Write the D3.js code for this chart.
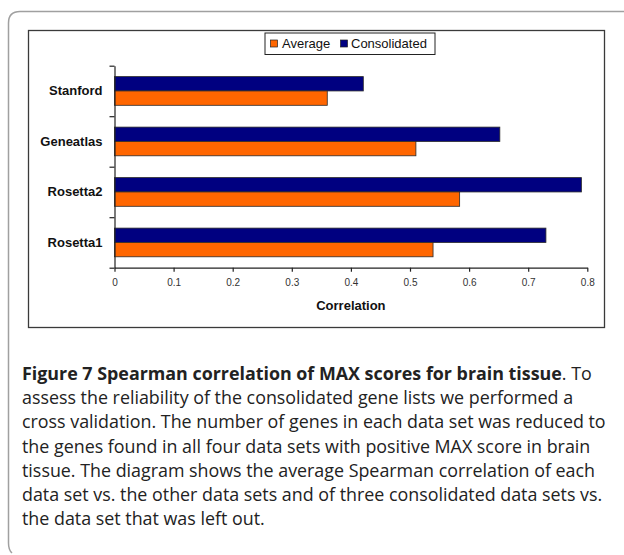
<!DOCTYPE html>
<html>
<head>
<meta charset="utf-8">
<script src="https://cdn.jsdelivr.net/npm/d3@7"></script>
<style>
  body { margin: 0; background: #fff; }
  svg { display: block; }
</style>
</head>
<body>
<svg id="chart" width="624" height="555"></svg>
<script>
// data
const categories = ['Stanford', 'Geneatlas', 'Rosetta2', 'Rosetta1']
const seriesNames = ['Consolidated', 'Average']
const consolidated = [0.421, 0.652, 0.79, 0.73]
const average = [0.36, 0.51, 0.584, 0.539]
const xTicks = [0, 0.1, 0.2, 0.3, 0.4, 0.5, 0.6, 0.7, 0.8]
const colors = { Average: '#ff6600', Consolidated: '#000080' }
const captionBold = 'Figure 7 Spearman correlation of MAX scores for brain tissue'
const captionLines = [
  '. To',
  'assess the reliability of the consolidated gene lists we performed a',
  'cross validation. The number of genes in each data set was reduced to',
  'the genes found in all four data sets with positive MAX score in brain',
  'tissue. The diagram shows the average Spearman correlation of each',
  'data set vs. the other data sets and of three consolidated data sets vs.',
  'the data set that was left out.'
]

const svg = d3.select('#chart')

// outer figure frame (rounded left side, open right)
svg
  .append('path')
  .attr('d', 'M624,11.5 H20 Q8.5,11.5 8.5,23 V543 Q8.5,550 12,553')
  .attr('fill', 'none')
  .attr('stroke', '#a0a0a0')
  .attr('stroke-width', 1.5)

// chart frame
svg
  .append('rect')
  .attr('x', 28.5)
  .attr('y', 30.5)
  .attr('width', 576)
  .attr('height', 297)
  .attr('fill', '#fff')
  .attr('stroke', '#3a3a3a')
  .attr('stroke-width', 1.3)

/// scales ////////////////////////////////
const plot = { left: 114.5, right: 587.3, top: 65.7, bottom: 267.7 }

const xScale = d3.scaleLinear().domain([0, 0.8]).range([plot.left, plot.right])
const yScale = d3
  .scaleBand()
  .domain(categories)
  .range([plot.top, plot.bottom])
  .paddingInner(0)
const ySub = d3
  .scaleBand()
  .domain(seriesNames)
  .range([0, yScale.bandwidth()])
  .paddingOuter(0.76)
const yEdge = d3
  .scaleLinear()
  .domain([0, categories.length])
  .range([plot.bottom, plot.top])

const rows = categories.map((c, i) => ({
  category: c,
  values: [
    { key: 'Consolidated', value: consolidated[i] },
    { key: 'Average', value: average[i] }
  ]
}))

// bars
const groups = svg
  .selectAll('.row')
  .data(rows)
  .join('g')
  .attr('class', 'row')
  .attr('transform', d => 'translate(0,' + yScale(d.category) + ')')

groups
  .selectAll('rect')
  .data(d => d.values)
  .join('rect')
  .attr('x', xScale(0))
  .attr('y', d => ySub(d.key))
  .attr('width', d => xScale(d.value) - xScale(0))
  .attr('height', ySub.bandwidth())
  .attr('fill', d => colors[d.key])
  .attr('stroke', '#2a2a2a')
  .attr('stroke-width', 0.8)

// y axis: boundary ticks
svg
  .append('g')
  .attr('transform', 'translate(' + plot.left + ',0)')
  .call(
    d3
      .axisLeft(yEdge)
      .ticks(categories.length)
      .tickSize(5)
      .tickSizeOuter(0)
      .tickFormat('')
  )
  .call(g => g.selectAll('line, path').attr('stroke', '#222').attr('stroke-width', 1.2))

// category labels
svg
  .append('g')
  .attr('transform', 'translate(' + plot.left + ',0)')
  .call(d3.axisLeft(yScale).tickSize(0).tickPadding(12))
  .call(g => g.select('.domain').remove())
  .call(g =>
    g
      .selectAll('text')
      .attr('font-family', 'Liberation Sans, Arial, sans-serif')
      .attr('font-size', 13)
      .attr('font-weight', 'bold')
      .attr('fill', '#111')
  )

// x axis
svg
  .append('g')
  .attr('transform', 'translate(0,' + plot.bottom + ')')
  .call(
    d3
      .axisBottom(xScale)
      .tickValues(xTicks)
      .tickSize(4)
      .tickSizeOuter(0)
      .tickPadding(7)
      .tickFormat(d => (d === 0 ? '0' : d.toFixed(1)))
  )
  .call(g => g.selectAll('line, path').attr('stroke', '#222').attr('stroke-width', 1.2))
  .call(g =>
    g
      .selectAll('text')
      .attr('font-family', 'Liberation Sans, Arial, sans-serif')
      .attr('font-size', 10)
      .attr('fill', '#333')
  )

// axis title
svg
  .append('text')
  .text('Correlation')
  .attr('x', (plot.left + plot.right) / 2)
  .attr('y', 309.5)
  .attr('text-anchor', 'middle')
  .attr('font-family', 'Liberation Sans, Arial, sans-serif')
  .attr('font-size', 13)
  .attr('font-weight', 'bold')
  .attr('fill', '#111')

/// legend ////////////////////////////////
const legend = svg.append('g').attr('transform', 'translate(265,33)')
legend
  .append('rect')
  .attr('width', 170)
  .attr('height', 21.5)
  .attr('fill', '#fff')
  .attr('stroke', '#222')
  .attr('stroke-width', 1)

const legendItems = [
  { key: 'Average', x: 5.5, tx: 17 },
  { key: 'Consolidated', x: 75.5, tx: 86 }
]
legend
  .selectAll('.legend-swatch')
  .data(legendItems)
  .join('rect')
  .attr('class', 'legend-swatch')
  .attr('x', d => d.x)
  .attr('y', 7)
  .attr('width', 7)
  .attr('height', 7)
  .attr('fill', d => colors[d.key])
  .attr('stroke', '#222')
  .attr('stroke-width', 0.7)
legend
  .selectAll('.legend-text')
  .data(legendItems)
  .join('text')
  .attr('class', 'legend-text')
  .text(d => d.key)
  .attr('x', d => d.tx)
  .attr('y', 15.3)
  .attr('font-family', 'Liberation Sans, Arial, sans-serif')
  .attr('font-size', 13)
  .attr('fill', '#111')

/// caption ////////////////////////////////
// the original uses a narrow face; squeeze a regular one horizontally instead
const captionFont = 'Open Sans, Noto Sans, sans-serif'
const caption = svg.append('g').attr('class', 'caption')
const lineY = d3.range(captionLines.length).map(i => 380 + i * 24.2)

const first = caption
  .append('text')
  .attr('x', 0)
  .attr('y', lineY[0])
  .attr('font-family', captionFont)
  .attr('fill', '#222')
first.append('tspan').attr('font-weight', 'bold').text(captionBold)
first.append('tspan').text(captionLines[0])

captionLines.slice(1).forEach((line, i) => {
  caption
    .append('text')
    .attr('class', 'cap-line')
    .attr('x', 0)
    .attr('y', lineY[i + 1])
    .attr('font-family', captionFont)
    .attr('fill', '#222')
    .text(line)
})

caption.selectAll('text').attr('font-size', 17.5)
const probe = caption.selectAll('.cap-line').filter((d, i) => i === 1)
const w = probe.node().getComputedTextLength()
caption.attr('transform', 'translate(22,0) scale(' + 584 / w + ',1)')
</script>
</body>
</html>
